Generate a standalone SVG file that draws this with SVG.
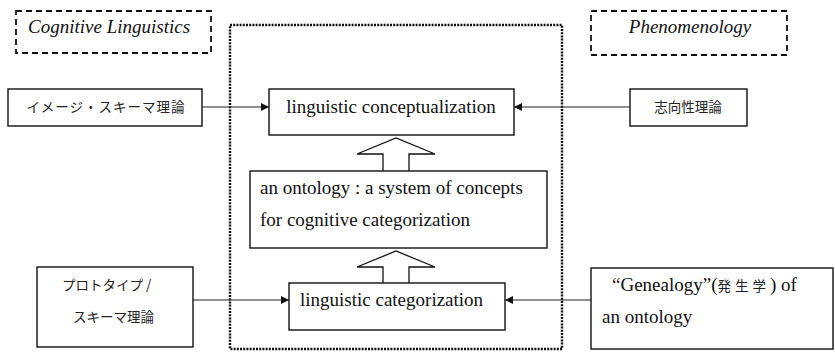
<svg xmlns="http://www.w3.org/2000/svg" width="835" height="353" viewBox="0 0 835 353">
  <style>
    .box { fill: #fff; stroke: #111; stroke-width: 1.4; }
    .dash { fill: none; stroke: #111; stroke-width: 1.8; stroke-dasharray: 6 4; }
    .dots { fill: none; stroke: #111; stroke-width: 2.4; stroke-dasharray: 2 1.2; }
    .blk { fill: #fff; stroke: #111; stroke-width: 1.3; stroke-linejoin: miter; }
    .conn { fill: none; stroke: #222; stroke-width: 1.2; }
    .en { font-family: "Liberation Serif", "Times New Roman", serif; font-size: 19px; fill: #111; }
    .it { font-style: italic; }
    .ja { font-family: "Noto Sans CJK JP", "Noto Sans CJK SC", sans-serif; font-size: 13.5px; fill: #222; }
  </style>
  <defs>
    <marker id="tri" viewBox="0 0 10 10" refX="10" refY="5" markerWidth="9" markerHeight="8" markerUnits="userSpaceOnUse" orient="auto">
      <path d="M0,0 L10,5 L0,10 Z" fill="#111"/>
    </marker>
  </defs>
  <rect width="835" height="353" fill="#fff"/>

  <!-- framework labels -->
  <g id="cognitive-linguistics">
    <rect class="dash" x="16" y="11" width="195" height="42"/>
    <text class="en it" x="28" y="33">Cognitive Linguistics</text>
  </g>
  <g id="phenomenology">
    <rect class="dash" x="591" y="11" width="196" height="44"/>
    <text class="en it" x="690" y="33" text-anchor="middle">Phenomenology</text>
  </g>

  <!-- central dotted frame -->
  <g id="frame">
    <rect class="dots" x="230" y="25" width="332" height="324"/>
  </g>

  <!-- connectors -->
  <g id="connectors">
    <line class="conn" x1="202" y1="107" x2="269" y2="107" marker-end="url(#tri)"/>
    <line class="conn" x1="630" y1="107" x2="514" y2="107" marker-end="url(#tri)"/>
    <line class="conn" x1="193" y1="300" x2="289" y2="300" marker-end="url(#tri)"/>
    <line class="conn" x1="591" y1="300" x2="505" y2="300" marker-end="url(#tri)"/>
    <!-- hollow block arrows -->
    <path class="blk" d="M383,171 L383,154 L357,154 L396,138 L435,154 L409,154 L409,171"/>
    <path class="blk" d="M383,283 L383,267 L357,267 L396,251 L435,267 L409,267 L409,283"/>
  </g>

  <g id="image-schema">
    <rect class="box" x="8" y="89" width="194" height="37"/>
    <text class="ja" x="106" y="112" text-anchor="middle" letter-spacing="1">イメージ・スキーマ理論</text>
  </g>

  <g id="intentionality">
    <rect class="box" x="630" y="89" width="117" height="37"/>
    <text class="ja" x="688" y="112" text-anchor="middle">志向性理論</text>
  </g>

  <g id="conceptualization">
    <rect class="box" x="269" y="89" width="245" height="46"/>
    <text class="en" x="391" y="113" text-anchor="middle">linguistic conceptualization</text>
  </g>

  <g id="ontology">
    <rect class="box" x="250" y="171" width="297" height="77"/>
    <text class="en" x="260" y="194">an ontology : a system of concepts</text>
    <text class="en" x="260" y="226">for cognitive categorization</text>
  </g>

  <g id="categorization">
    <rect class="box" x="289" y="283" width="216" height="47"/>
    <text class="en" x="300" y="306">linguistic categorization</text>
  </g>

  <g id="prototype">
    <rect class="box" x="37" y="267" width="156" height="80"/>
    <text class="ja" x="62" y="290">プロトタイプ /</text>
    <text class="ja" x="73" y="322">スキーマ理論</text>
  </g>

  <g id="genealogy">
    <rect class="box" x="591" y="268" width="242" height="81"/>
    <text class="en" x="612" y="291">“Genealogy”(<tspan class="ja" font-size="17" letter-spacing="4">発生学</tspan>)  of</text>
    <text class="en" x="602" y="323">an ontology</text>
  </g>
</svg>
